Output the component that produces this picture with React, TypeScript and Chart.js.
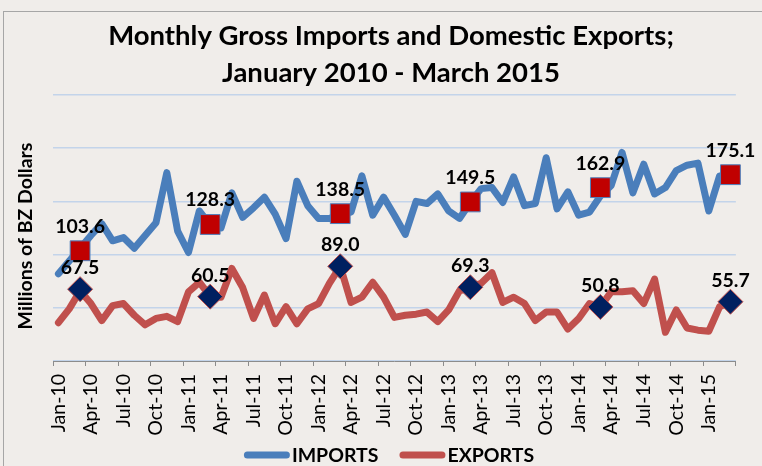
import React, { useEffect, useRef } from 'react';
import { Chart, registerables } from 'chart.js';

Chart.register(...registerables);

const monthNames = ['Jan', 'Feb', 'Mar', 'Apr', 'May', 'Jun', 'Jul', 'Aug', 'Sep', 'Oct', 'Nov', 'Dec'];
const yearSuffixes = ['10', '11', '12', '13', '14', '15'];
const categories: string[] = [];
for (const yr of yearSuffixes) {
  for (const m of monthNames) {
    if (categories.length < 63) categories.push(`${m}-${yr}`);
  }
}

const importsValues = [
  82, 94, 106, 118, 129, 113, 116, 106, 118, 130, 177, 122,
  102, 141, 128, 125, 158, 135, 144, 154, 138, 115, 169, 146,
  134, 134, 138, 140, 174, 137, 154, 137, 119, 150, 148, 157,
  141, 134, 149, 162, 163, 149, 173, 146, 148, 191, 143, 159,
  137, 140, 155, 165, 196, 158, 185, 157, 163, 179, 184, 186,
  141, 174, 175,
];
const exportsValues = [
  36, 49, 66, 54, 38, 52, 54, 43, 34, 40, 42, 37,
  65, 74, 61, 60, 87, 69, 40, 62, 35, 51, 35, 49,
  54, 73, 89, 55, 60, 74, 60, 41, 43, 44, 46, 37,
  48, 66, 69, 73, 83, 55, 60, 54, 38, 46, 46, 30,
  40, 54, 51, 65, 65, 66, 54, 77, 27, 48, 31, 29,
  28, 51, 56,
];
const markerMonths = ['Mar-10', 'Mar-11', 'Mar-12', 'Mar-13', 'Mar-14', 'Mar-15'];
const importsMarch = [103.6, 128.3, 138.5, 149.5, 162.9, 175.1];
const exportsMarch = [67.5, 60.5, 89.0, 69.3, 50.8, 55.7];

const titleLines = ['Monthly Gross Imports and Domestic Exports;', 'January 2010 - March 2015'];
const yAxisTitle = 'Millions of BZ Dollars';
const seriesNames = ['IMPORTS', 'EXPORTS'];
const seriesColors = ['#4a7ebb', '#c0504d'];

const FONT = 'Lato, "Open Sans", sans-serif';

const textPlugin = {
  id: 'customText',
  afterDraw(chart: any) {
    const ctx = chart.ctx;
    ctx.save();
    ctx.fillStyle = '#000000';
    ctx.textAlign = 'center';
    ctx.textBaseline = 'alphabetic';
    ctx.font = `bold 27.5px ${FONT}`;
    ctx.fillText(titleLines[0], 391, 45);
    ctx.fillText(titleLines[1], 391, 82);
    ctx.translate(32, 236);
    ctx.rotate(-Math.PI / 2);
    ctx.font = `bold 19.5px ${FONT}`;
    ctx.fillText(yAxisTitle, 0, 0);
    ctx.restore();
  },
};

const legendPlugin = {
  id: 'customLegend',
  afterDraw(chart: any) {
    const ctx = chart.ctx;
    ctx.save();
    ctx.font = `bold 19.5px ${FONT}`;
    const sample = 46;
    const textGap = 2;
    const itemGap = 21;
    const lw = 7;
    const widths = seriesNames.map((t) => sample + textGap + ctx.measureText(t).width);
    const total = widths.reduce((a, b) => a + b, 0) + itemGap * (seriesNames.length - 1);
    let x = 389 - total / 2;
    const y = 455;
    seriesNames.forEach((t, k) => {
      ctx.strokeStyle = seriesColors[k];
      ctx.lineWidth = lw;
      ctx.lineCap = 'round';
      ctx.beginPath();
      ctx.moveTo(x + lw / 2, y);
      ctx.lineTo(x + sample - lw / 2, y);
      ctx.stroke();
      ctx.fillStyle = '#000000';
      ctx.textAlign = 'left';
      ctx.textBaseline = 'alphabetic';
      ctx.fillText(t, x + sample + textGap, y + 7);
      x += widths[k] + itemGap;
    });
    ctx.restore();
  },
};

const labelPlugin = {
  id: 'markerLabels',
  afterDatasetsDraw(chart: any) {
    const ctx = chart.ctx;
    ctx.save();
    ctx.fillStyle = '#000000';
    ctx.textAlign = 'center';
    ctx.textBaseline = 'alphabetic';
    ctx.font = `bold 19.5px ${FONT}`;
    chart.data.datasets.forEach((ds: any, i: number) => {
      if (!ds.markerSeries) return;
      const meta = chart.getDatasetMeta(i);
      meta.data.forEach((pt: any, j: number) => {
        const v = ds.data[j].y;
        ctx.fillText(v.toFixed(1), pt.x, pt.y - ds.labelGap);
      });
    });
    ctx.restore();
  },
};

export default function App() {
  const canvasRef = useRef<HTMLCanvasElement | null>(null);

  useEffect(() => {
    if (!canvasRef.current) return;
    const chart = new Chart(canvasRef.current, {
      type: 'line',
      data: {
        labels: categories,
        datasets: [
          {
            label: 'Imports March',
            markerSeries: true,
            labelGap: 18,
            data: markerMonths.map((m, i) => ({ x: m, y: importsMarch[i] })),
            showLine: false,
            pointStyle: 'rect',
            pointRadius: 14,
            pointHoverRadius: 14,
            backgroundColor: '#c00000',
            borderColor: '#4f81bd',
            pointBackgroundColor: '#c00000',
            pointBorderColor: '#4f81bd',
            pointBorderWidth: 1,
            order: 0,
          } as any,
          {
            label: 'Exports March',
            markerSeries: true,
            labelGap: 15,
            data: markerMonths.map((m, i) => ({ x: m, y: exportsMarch[i] })),
            showLine: false,
            pointStyle: 'rectRot',
            pointRadius: 12.5,
            pointHoverRadius: 12.5,
            backgroundColor: '#002060',
            borderColor: '#c0504d',
            pointBackgroundColor: '#002060',
            pointBorderColor: '#c0504d',
            pointBorderWidth: 1,
            order: 0,
          } as any,
          {
            label: seriesNames[0],
            data: importsValues,
            borderColor: seriesColors[0],
            backgroundColor: seriesColors[0],
            borderWidth: 7,
            borderCapStyle: 'round',
            borderJoinStyle: 'round',
            pointRadius: 0,
            tension: 0,
            order: 1,
          },
          {
            label: seriesNames[1],
            data: exportsValues,
            borderColor: seriesColors[1],
            backgroundColor: seriesColors[1],
            borderWidth: 7,
            borderCapStyle: 'round',
            borderJoinStyle: 'round',
            pointRadius: 0,
            tension: 0,
            order: 1,
          },
        ],
      },
      options: {
        animation: false,
        responsive: false,
        devicePixelRatio: 1,
        layout: { padding: { top: 95, right: 20, left: 36, bottom: 0 } },
        plugins: {
          title: { display: false },
          tooltip: { enabled: false },
          legend: { display: false },
        },
        scales: {
          x: {
            type: 'category',
            offset: true,
            grid: {
              display: true,
              drawOnChartArea: false,
              drawTicks: true,
              tickLength: 5,
              offset: true,
              lineWidth: 1,
              color: (ctx: any) =>
                ctx.type === 'tick' && ctx.index % 3 !== 0 ? 'rgba(0,0,0,0)' : '#8c8c8c',
            },
            border: { display: true, color: '#8c8c8c', width: 1 },
            ticks: {
              autoSkip: false,
              maxRotation: 90,
              minRotation: 90,
              padding: 8,
              color: '#000000',
              font: { family: FONT, size: 19.5 },
              callback: function (this: any, value: any, index: number) {
                return index % 3 === 0 ? this.getLabelForValue(value) : '';
              },
            },
            afterFit: (scale: any) => {
              scale.height = 105;
            },
          },
          y: {
            min: 0,
            max: 250,
            ticks: { stepSize: 50, display: false },
            grid: { color: '#c3d4ea', lineWidth: 1.5, drawTicks: false },
            border: { display: false },
            afterFit: (scale: any) => {
              scale.width = 17;
            },
          },
        },
      } as any,
      plugins: [textPlugin, labelPlugin, legendPlugin],
    });
    return () => chart.destroy();
  }, []);

  return (
    <div
      style={{
        position: 'fixed',
        left: 0,
        top: 0,
        width: 762,
        height: 466,
        overflow: 'hidden',
        background: '#f0edea',
      }}
    >
      <div
        style={{
          position: 'absolute',
          left: 3,
          top: 11,
          width: 800,
          height: 500,
          borderLeft: '1px solid #a6a6a6',
          borderTop: '1px solid #a6a6a6',
        }}
      />
      <canvas
        ref={canvasRef}
        width={762}
        height={466}
        style={{ position: 'absolute', left: 0, top: 0 }}
      />
    </div>
  );
}
